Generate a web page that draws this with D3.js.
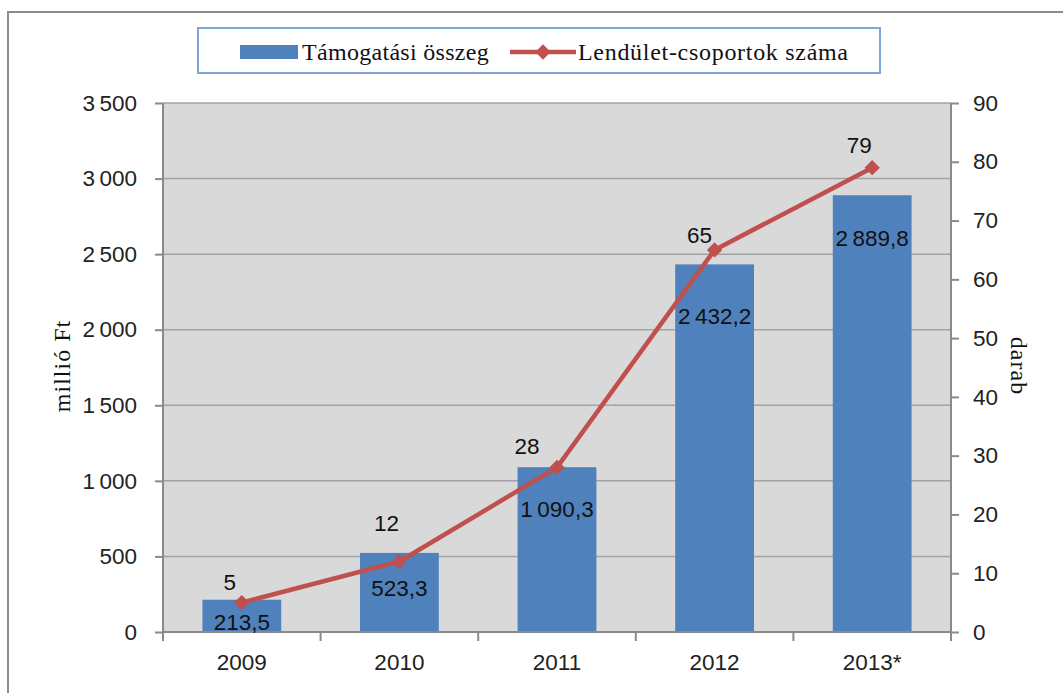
<!DOCTYPE html>
<html>
<head>
<meta charset="utf-8">
<script src="https://cdn.jsdelivr.net/npm/d3@7"></script>
<style>
  html, body { margin: 0; padding: 0; background: #ffffff; }
  svg { display: block; }
</style>
</head>
<body>
<svg id="chart" width="1063" height="693"></svg>
<script>
// ---- data ----
const categories = ["2009", "2010", "2011", "2012", "2013*"];
const fundingValues = [213.5, 523.3, 1090.3, 2432.2, 2889.8];   // millió Ft
const groupCounts = [5, 12, 28, 65, 79];                        // darab
const leftTicks = [0, 500, 1000, 1500, 2000, 2500, 3000, 3500];
const rightTicks = [0, 10, 20, 30, 40, 50, 60, 70, 80, 90];
const seriesNames = ["Támogatási összeg", "Lendület-csoportok száma"];
const leftTitle = "millió Ft";
const rightTitle = "darab";

// label placement tweaks (pixels)
const barLabelDy = [22, 35, 42, 52, 43];
const lineLabelDx = [-12, -13, -30, -15, -13];
const lineLabelDy = [-20, -38, -21, -15, -23];

// ---- setup ----
const svg = d3.select("#chart");
const numFont = "'Liberation Sans', Arial, sans-serif";
const serifFont = "'Liberation Serif', 'Times New Roman', serif";
const textColor = "#222";
const loc = d3.formatLocale({ decimal: ",", thousands: "\u2009", grouping: [3], currency: ["", ""] });
const fmtAxis = loc.format(",.0f");
const fmtBar = loc.format(",.1f");

const plot = { left: 163, right: 951, top: 103, bottom: 632 };

const x = d3.scaleBand().domain(categories).range([plot.left, plot.right])
  .paddingInner(0.5).paddingOuter(0.25);
const yL = d3.scaleLinear().domain([0, 3500]).range([plot.bottom, plot.top]);
const yR = d3.scaleLinear().domain([0, 90]).range([plot.bottom, plot.top]);

// outer border
svg.append("rect").attr("x", 8).attr("y", 12).attr("width", 1100).attr("height", 720)
  .attr("fill", "none").attr("stroke", "#8c8c8c").attr("stroke-width", 2);

// plot background
svg.append("rect").attr("x", plot.left).attr("y", plot.top)
  .attr("width", plot.right - plot.left).attr("height", plot.bottom - plot.top)
  .attr("fill", "#d9d9d9");

// gridlines
svg.append("g").selectAll("line").data(leftTicks.filter(d => d > 0)).join("line")
  .attr("x1", plot.left).attr("x2", plot.right)
  .attr("y1", d => yL(d)).attr("y2", d => yL(d))
  .attr("stroke", "#a3a3a3").attr("stroke-width", 1.5);

// bars
svg.append("g").selectAll("rect").data(fundingValues).join("rect")
  .attr("x", (d, i) => x(categories[i]))
  .attr("y", d => yL(d))
  .attr("width", x.bandwidth())
  .attr("height", d => yL(0) - yL(d))
  .attr("fill", "#4f81bd");

// axes
const axisColor = "#8a8a8a";
const leftAxis = svg.append("g").attr("transform", `translate(${plot.left},0)`)
  .call(d3.axisLeft(yL).tickValues(leftTicks).tickFormat(fmtAxis).tickSize(8).tickPadding(18));
const rightAxis = svg.append("g").attr("transform", `translate(${plot.right},0)`)
  .call(d3.axisRight(yR).tickValues(rightTicks).tickFormat(d3.format("d")).tickSize(8).tickPadding(14));
const bottomAxis = svg.append("g").attr("transform", `translate(0,${plot.bottom})`)
  .call(d3.axisBottom(x).tickSize(0).tickPadding(22));
[leftAxis, rightAxis, bottomAxis].forEach(g => {
  g.select(".domain").attr("stroke", axisColor).attr("stroke-width", 2);
  g.selectAll(".tick line").attr("stroke", axisColor).attr("stroke-width", 2);
  g.selectAll("text").attr("font-family", numFont).attr("font-size", 22.5).attr("fill", textColor);
});
leftAxis.select(".domain").attr("d", `M0,${plot.bottom}V${plot.top}`);
rightAxis.select(".domain").attr("d", `M0,${plot.bottom}V${plot.top}`);
bottomAxis.select(".domain").attr("d", `M${plot.left},0H${plot.right}`);

// category boundary ticks
const boundaries = categories.map(c => x(c) + x.bandwidth() / 2 - x.step() / 2)
  .concat([x(categories[categories.length - 1]) + x.bandwidth() / 2 + x.step() / 2]);
svg.append("g").selectAll("line").data(boundaries).join("line")
  .attr("x1", d => d).attr("x2", d => d)
  .attr("y1", plot.bottom).attr("y2", plot.bottom + 9)
  .attr("stroke", axisColor).attr("stroke-width", 2);

// line series
const cx = i => x(categories[i]) + x.bandwidth() / 2;
const line = d3.line().x((d, i) => cx(i)).y(d => yR(d));
svg.append("path").datum(groupCounts).attr("d", line)
  .attr("fill", "none").attr("stroke", "#c0504d").attr("stroke-width", 4.5)
  .attr("stroke-linejoin", "round");
const diamond = d3.symbol().type(d3.symbolDiamond2).size(150);
svg.append("g").selectAll("path").data(groupCounts).join("path")
  .attr("d", diamond)
  .attr("transform", (d, i) => `translate(${cx(i)},${yR(d)})`)
  .attr("fill", "#c0504d");

// bar labels
svg.append("g").selectAll("text").data(fundingValues).join("text")
  .attr("x", (d, i) => cx(i))
  .attr("y", (d, i) => yL(d) + barLabelDy[i])
  .attr("dy", "0.35em")
  .attr("text-anchor", "middle")
  .attr("font-family", numFont).attr("font-size", 22.5).attr("fill", "#111")
  .text(d => fmtBar(d));

// line labels
svg.append("g").selectAll("text").data(groupCounts).join("text")
  .attr("x", (d, i) => cx(i) + lineLabelDx[i])
  .attr("y", (d, i) => yR(d) + lineLabelDy[i])
  .attr("dy", "0.35em")
  .attr("text-anchor", "middle")
  .attr("font-family", numFont).attr("font-size", 22.5).attr("fill", "#111")
  .text(d => d);

// axis titles
svg.append("text").attr("transform", "translate(70,366) rotate(-90)")
  .attr("text-anchor", "middle").attr("font-family", serifFont).attr("font-size", 24)
  .attr("letter-spacing", 1).attr("fill", "#111").text(leftTitle);
svg.append("text").attr("transform", "translate(1011,366) rotate(90)")
  .attr("text-anchor", "middle").attr("font-family", serifFont).attr("font-size", 24)
  .attr("letter-spacing", 1).attr("fill", "#111").text(rightTitle);

// legend
const lg = svg.append("g");
lg.append("rect").attr("x", 198).attr("y", 28).attr("width", 682).attr("height", 45)
  .attr("fill", "#fff").attr("stroke", "#7ea6d6").attr("stroke-width", 2);
lg.append("rect").attr("x", 240).attr("y", 45).attr("width", 58).attr("height", 14).attr("fill", "#4f81bd");
lg.append("text").attr("x", 302).attr("y", 52).attr("dy", "0.35em")
  .attr("font-family", serifFont).attr("font-size", 24).attr("letter-spacing", 0.3)
  .attr("fill", "#111").text(seriesNames[0]);
lg.append("line").attr("x1", 510).attr("x2", 576).attr("y1", 52).attr("y2", 52)
  .attr("stroke", "#c0504d").attr("stroke-width", 4.5);
lg.append("path").attr("d", diamond).attr("transform", "translate(543,52)").attr("fill", "#c0504d");
lg.append("text").attr("x", 578).attr("y", 52).attr("dy", "0.35em")
  .attr("font-family", serifFont).attr("font-size", 24).attr("letter-spacing", 0.7)
  .attr("fill", "#111").text(seriesNames[1]);
</script>
</body>
</html>
